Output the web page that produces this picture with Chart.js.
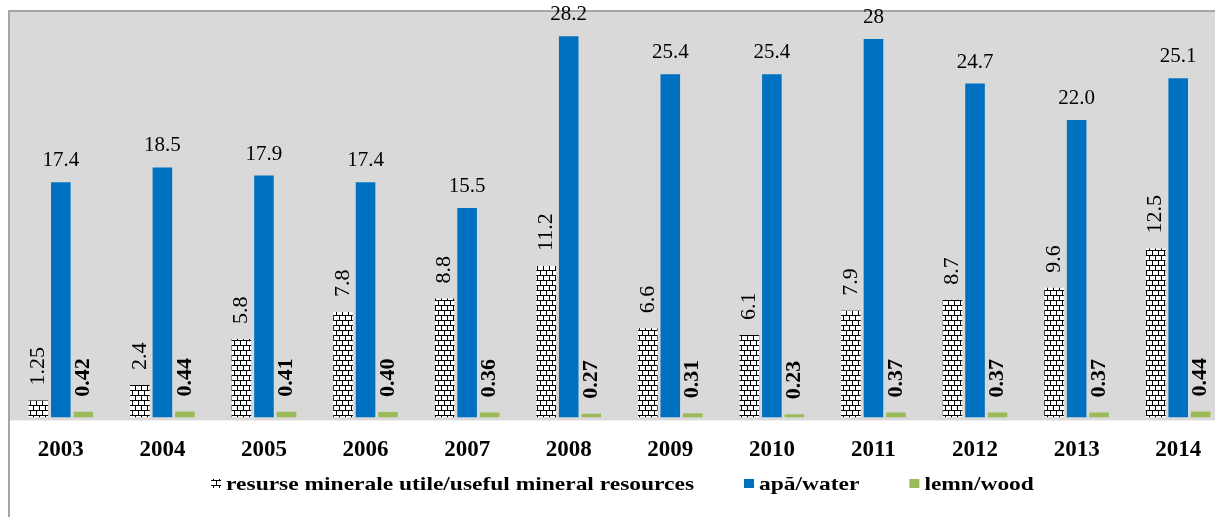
<!DOCTYPE html>
<html>
<head>
<meta charset="utf-8">
<script src="https://cdn.jsdelivr.net/npm/chart.js@4.4.0/dist/chart.umd.min.js"></script>
<style>
  html, body { margin: 0; padding: 0; background: #fff; overflow: hidden; }
  #wrap { position: absolute; left: 0; top: 0; width: 1240px; height: 517px; }
</style>
</head>
<body>
<div id="wrap"><canvas id="grafic" width="1240" height="517"></canvas></div>
<script>
// date
const ani = ['2003', '2004', '2005', '2006', '2007', '2008', '2009', '2010', '2011', '2012', '2013', '2014'];
const minerale = [1.25, 2.4, 5.8, 7.8, 8.8, 11.2, 6.6, 6.1, 7.9, 8.7, 9.6, 12.5];
const apa = [17.4, 18.5, 17.9, 17.4, 15.5, 28.2, 25.4, 25.4, 28, 24.7, 22.0, 25.1];
const lemn = [0.42, 0.44, 0.41, 0.40, 0.36, 0.27, 0.31, 0.23, 0.37, 0.37, 0.37, 0.44];
const eticheteMinerale = ['1.25', '2.4', '5.8', '7.8', '8.8', '11.2', '6.6', '6.1', '7.9', '8.7', '9.6', '12.5'];
const eticheteApa = ['17.4', '18.5', '17.9', '17.4', '15.5', '28.2', '25.4', '25.4', '28', '24.7', '22.0', '25.1'];
const eticheteLemn = ['0.42', '0.44', '0.41', '0.40', '0.36', '0.27', '0.31', '0.23', '0.37', '0.37', '0.37', '0.44'];
const numeSerii = ['resurse minerale utile/useful mineral resources', 'apă/water', 'lemn/wood'];

// model caramida pentru seria de resurse minerale
function modelCaramizi() {
	const c = document.createElement('canvas');
	c.width = 6; c.height = 10;
	const g = c.getContext('2d');
	g.fillStyle = '#fff';
	g.fillRect(0, 0, 6, 10);
	g.fillStyle = '#000';
	g.fillRect(0, 0, 6, 1);
	g.fillRect(0, 5, 6, 1);
	g.fillRect(0, 1, 1, 4);
	g.fillRect(3, 6, 1, 4);
	return g.createPattern(c, 'repeat');
}
const caramizi = modelCaramizi();

const fundal = {
	id: 'fundal',
	beforeDraw(chart) {
		const {ctx, chartArea: a} = chart;
		ctx.save();
		ctx.fillStyle = '#d9d9d9';
		ctx.fillRect(a.left, a.top, a.right - a.left, a.bottom - a.top + 3);
		ctx.strokeStyle = '#a6a6a6';
		ctx.lineWidth = 2;
		ctx.beginPath();
		ctx.moveTo(9, chart.height);
		ctx.lineTo(9, 11);
		ctx.lineTo(chart.width, 11);
		ctx.stroke();
		ctx.restore();
	}
};

const etichete = {
	id: 'etichete',
	afterDatasetsDraw(chart) {
		const ctx = chart.ctx;
		const texte = [eticheteMinerale, eticheteApa, eticheteLemn];
		chart.data.datasets.forEach((ds, i) => {
			chart.getDatasetMeta(i).data.forEach((bar, j) => {
				ctx.save();
				ctx.fillStyle = '#000';
				if (i === 1) {
					ctx.font = '21px "Liberation Serif"';
					ctx.textAlign = 'center';
					ctx.textBaseline = 'alphabetic';
					ctx.fillText(texte[i][j], bar.x, bar.y - 16);
				} else {
					ctx.font = (i === 2 ? 'bold ' : '') + '22px "Liberation Serif"';
					ctx.translate(bar.x, bar.y - 15);
					ctx.rotate(-Math.PI / 2);
					ctx.textAlign = 'left';
					ctx.textBaseline = 'middle';
					ctx.fillText(texte[i][j], 0, 0);
				}
				ctx.restore();
			});
		});
	}
};

const legenda = {
	id: 'legenda',
	afterDraw(chart) {
		const ctx = chart.ctx;
		const intindere = 1.235;
		const marcaj = 10, spatiu = 5, pas = 50;
		ctx.save();
		ctx.font = 'bold 19px "Liberation Serif"';
		const latimi = numeSerii.map(t => ctx.measureText(t).width * intindere);
		const total = latimi.reduce((s, w) => s + w + marcaj + spatiu, 0) + pas * (latimi.length - 1);
		let x = (chart.chartArea.left + chart.chartArea.right) / 2 - total / 2 + 3;
		chart.data.datasets.forEach((ds, i) => {
			ctx.fillStyle = ds.backgroundColor;
			ctx.fillRect(x, 479, marcaj, 9);
			x += marcaj + spatiu;
			ctx.save();
			ctx.translate(x, 490);
			ctx.scale(intindere, 1);
			ctx.fillStyle = '#000';
			ctx.textBaseline = 'alphabetic';
			ctx.fillText(numeSerii[i], 0, 0);
			ctx.restore();
			x += latimi[i] + pas;
		});
		ctx.restore();
	}
};

const bara = {categoryPercentage: 0.665, barPercentage: 0.87};

new Chart(document.getElementById('grafic'), {
	type: 'bar',
	data: {
		labels: ani,
		datasets: [
			{label: numeSerii[0], data: minerale, backgroundColor: caramizi, ...bara},
			{label: numeSerii[1], data: apa, backgroundColor: '#0070c0', ...bara},
			{label: numeSerii[2], data: lemn, backgroundColor: '#9bbb59', ...bara}
		]
	},
	options: {
		responsive: false,
		animation: false,
		devicePixelRatio: 1,
		layout: {padding: {left: 10, top: 12, right: 11, bottom: 34}},
		plugins: {legend: {display: false}, tooltip: {enabled: false}},
		scales: {
			x: {
				grid: {display: false, drawTicks: false},
				border: {display: false},
				ticks: {color: '#000', padding: 19, maxRotation: 0, font: {family: '"Liberation Serif"', size: 23, weight: 'bold'}}
			},
			y: {display: false, min: 0, max: 30}
		}
	},
	plugins: [fundal, etichete, legenda]
});
</script>
</body>
</html>
